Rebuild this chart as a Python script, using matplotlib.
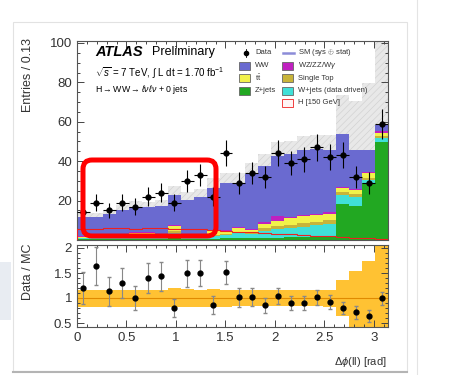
import numpy as np
import matplotlib.pyplot as plt
from matplotlib.patches import Rectangle, FancyBboxPatch
from matplotlib.lines import Line2D
from matplotlib.transforms import Affine2D
from matplotlib.ticker import MultipleLocator, FixedLocator, FormatStrFormatter

plt.rcParams['font.family'] = ['Liberation Sans', 'DejaVu Sans']
plt.rcParams['mathtext.fontset'] = 'custom'
plt.rcParams['mathtext.rm'] = 'Liberation Sans'
plt.rcParams['mathtext.it'] = 'Liberation Sans:italic'
plt.rcParams['hatch.linewidth'] = 0.5
plt.rcParams['hatch.color'] = '#d2d2d2'

# -----------------------------------
# Data (24 bins of 0.13 rad)
# -----------------------------------
data = [14, 19, 15, 19, 17, 22, 24, 19, 30, 33, 22, 44,
        29, 34, 32, 44, 39, 41, 47, 42, 43, 32, 29, 59]
data_err = [3.7, 4.4, 3.9, 4.4, 4.1, 4.7, 4.9, 4.4, 5.5, 5.7, 4.7, 6.6,
            5.4, 5.8, 5.7, 6.6, 6.2, 6.4, 6.9, 6.5, 6.6, 5.7, 5.4, 7.7]

zjets = [0.5, 0.5, 0.5, 0.5, 0.5, 0.5, 0.5, 1.0, 0.5, 0.5, 0.6, 0.8,
         1.0, 1.0, 1.2, 1.2, 1.3, 1.3, 1.4, 1.4, 18.5, 17.5, 29.0, 49.5]
wjets = [0.3, 0.3, 0.3, 0.3, 0.8, 0.8, 0.4, 2.5, 0.5, 0.5, 1.2, 1.5,
         2.5, 1.8, 3.5, 4.5, 5.0, 5.5, 6.0, 6.5, 4.5, 4.5, 1.5, 2.5]
single_top = [0.2, 0.2, 0.3, 0.3, 0.6, 0.6, 0.3, 1.2, 0.4, 0.4, 0.8, 0.8,
              0.8, 0.8, 1.2, 1.5, 1.5, 1.8, 1.8, 2.0, 1.5, 1.5, 1.0, 1.0]
ttbar = [0.5, 0.5, 0.6, 0.6, 1.8, 1.6, 0.7, 2.5, 0.8, 0.8, 1.8, 1.6,
         1.8, 1.6, 2.3, 2.5, 3.2, 3.4, 3.4, 3.5, 2.0, 2.0, 2.5, 1.5]
diboson = [0.3, 0.3, 0.3, 0.3, 0.4, 0.4, 0.3, 0.6, 0.4, 0.4, 0.4, 0.5,
           0.5, 0.5, 0.8, 2.5, 0.8, 0.8, 0.8, 0.8, 0.6, 0.5, 0.5, 0.6]
ww = [9.7, 10.0, 11.0, 13.0, 12.9, 12.6, 15.3, 15.2, 17.9, 19.4, 21.7, 23.8,
      22.4, 27.8, 28.5, 30.3, 31.7, 32.7, 32.6, 31.3, 26.9, 19.5, 11.0, 3.4]
higgs = [5.5, 5.8, 6.0, 6.0, 5.8, 6.0, 6.0, 5.5, 5.5, 5.5, 5.0, 4.5,
         4.2, 4.0, 3.5, 3.2, 3.0, 2.6, 2.2, 2.0, 1.6, 1.2, 0.9, 0.6]

# relative systematic band (from the ratio panel)
sys_up = [1.17, 1.17, 1.17, 1.17, 1.17, 1.17, 1.17, 1.2, 1.18, 1.17, 1.18, 1.17,
          1.17, 1.16, 1.17, 1.17, 1.16, 1.16, 1.16, 1.17, 1.36, 1.55, 1.75, 2.1]
sys_dn = [0.83, 0.83, 0.83, 0.83, 0.83, 0.83, 0.83, 0.82, 0.83, 0.83, 0.83, 0.83,
          0.84, 0.84, 0.84, 0.84, 0.84, 0.84, 0.84, 0.83, 0.64, 0.4, 0.4, 0.4]

ratio = [1.2, 1.64, 1.14, 1.3, 1.0, 1.4, 1.44, 0.8, 1.5, 1.5, 0.86, 1.52,
         1.02, 1.02, 0.86, 1.04, 0.9, 0.9, 1.02, 0.92, 0.8, 0.72, 0.64, 1.0]
ratio_err = [0.32, 0.38, 0.29, 0.30, 0.24, 0.30, 0.29, 0.18, 0.27, 0.26, 0.18, 0.23,
             0.19, 0.18, 0.15, 0.16, 0.14, 0.14, 0.15, 0.14, 0.12, 0.13, 0.12, 0.13]

edges = np.linspace(0, np.pi, 25)
centers = 0.5 * (edges[1:] + edges[:-1])
half_w = 0.5 * (edges[1] - edges[0])

# -----------------------------------
# Figure and axes
# -----------------------------------
W, H = 471, 375
fig = plt.figure(figsize=(W / 100, H / 100), dpi=100)
fig.patch.set_facecolor('white')
# pixel coordinates, origin at top-left
T = Affine2D().scale(1 / W, -1 / H).translate(0, 1) + fig.transFigure

ax = fig.add_axes([77 / W, 1 - 240 / H, 311 / W, 199 / H])
rax = fig.add_axes([77 / W, 1 - 327 / H, 311 / W, 82 / H])

# main panel: stacked backgrounds
stack = [(zjets, '#22a822'), (wjets, '#40e0d8'), (single_top, '#c8b43a'),
         (ttbar, '#f2f24a'), (diboson, '#c020c0'), (ww, '#6a6ad0')]
bottom = np.zeros(24)
for vals, col in stack:
    top = bottom + np.array(vals)
    ax.stairs(top, edges, baseline=bottom, fill=True, color=col, lw=0, zorder=2)
    bottom = top
mc_total = bottom

ax.stairs(mc_total * np.array(sys_up), edges, baseline=mc_total * np.array(sys_dn),
          fill=True, facecolor='#e8e8e8', hatch='/////', edgecolor='#d2d2d2', lw=0, zorder=1)
ax.stairs(higgs, edges, color='#ee2020', lw=0.8, zorder=3)
ax.errorbar(centers, data, yerr=data_err, xerr=half_w, fmt='o', color='black',
            ms=3.5, elinewidth=0.8, capsize=0, zorder=5)

ax.set_xlim(0, np.pi)
ax.set_ylim(0, 101)
ax.yaxis.set_major_locator(FixedLocator([0, 20, 40, 60, 80, 100]))
ax.set_yticklabels(['', '20', '40', '60', '80', '100'])
ax.yaxis.set_minor_locator(MultipleLocator(5))
ax.xaxis.set_major_locator(MultipleLocator(0.5))
ax.xaxis.set_minor_locator(MultipleLocator(0.1))
ax.tick_params(labelbottom=False)

# ratio panel
rax.stairs(sys_up, edges, baseline=sys_dn, fill=True, color='#ffc233', lw=0, zorder=1)
rax.axhline(1, color='#e08a00', lw=0.8, zorder=2)
rax.errorbar(centers, ratio, yerr=ratio_err, fmt='o', color='black', ecolor='#888888',
             ms=3.5, elinewidth=0.8, capsize=1.2, zorder=5)
rax.set_xlim(0, np.pi)
rax.set_ylim(0.42, 2.06)
rax.yaxis.set_major_locator(FixedLocator([0.5, 1, 1.5, 2]))
rax.yaxis.set_major_formatter(FormatStrFormatter('%g'))
rax.yaxis.set_minor_locator(MultipleLocator(0.1))
rax.xaxis.set_major_locator(MultipleLocator(0.5))
rax.xaxis.set_major_formatter(FormatStrFormatter('%g'))
rax.xaxis.set_minor_locator(MultipleLocator(0.1))

for a in (ax, rax):
    a.tick_params(which='both', direction='in', top=True, right=True,
                  labelsize=9.5, labelcolor='#333333', color='#444444', width=0.7)
    a.tick_params(which='major', length=5)
    a.tick_params(which='minor', length=2.5)
    for s in a.spines.values():
        s.set_color('#555555')
        s.set_linewidth(0.8)

# axis titles
fig.text(28, 38, 'Entries / 0.13', rotation=90, ha='center', va='top',
         fontsize=9, color='#333333', transform=T)
fig.text(28, 243, 'Data / MC', rotation=90, ha='center', va='top',
         fontsize=9, color='#333333', transform=T)
fig.text(387, 362, r'$\Delta\phi$(ll) [rad]', ha='right', va='center',
         fontsize=8, color='#333333', transform=T)

# ATLAS labels
fig.text(95, 52, 'ATLAS', fontweight='bold', fontstyle='italic', fontsize=10.5,
         va='center', transform=T)
fig.text(152, 52, 'Preliminary', fontsize=9, va='center', transform=T)
fig.text(95, 73, r'$\sqrt{s}$ = 7 TeV, $\int$ L dt = 1.70 fb$^{-1}$', fontsize=7,
         va='center', transform=T)
fig.text(95, 89, r'H$\rightarrow$WW$\rightarrow\ell\nu\ell\nu$ + 0 jets', fontsize=6.3,
         va='center', transform=T)

# legend, drawn by hand
rows = [53, 65.5, 78, 90.5, 103]
leg_boxes = [
    (239, rows[1], '#6a6ad0', 'WW'),
    (239, rows[2], '#f2f24a', r't$\bar{\rm t}$'),
    (239, rows[3], '#22a822', 'Z+jets'),
    (282, rows[1], '#c020c0', r'WZ/ZZ/W$\gamma$'),
    (282, rows[2], '#c8b43a', 'Single Top'),
    (282, rows[3], '#40e0d8', 'W+jets (data driven)'),
    (282, rows[4], '#fff4f4', 'H [150 GeV]'),
]
for bx, by, col, lab in leg_boxes:
    edge = '#ee2020' if lab.startswith('H ') else '#666666'
    fig.add_artist(Rectangle((bx, by - 4), 11, 8, facecolor=col, edgecolor=edge,
                             lw=0.6, transform=T, zorder=6))
    fig.text(bx + 16, by, lab, fontsize=5.5, va='center', color='#333333',
             transform=T, zorder=6)
fig.add_artist(Line2D([245.5], [rows[0]], marker='o', ms=3, color='black',
                      transform=T, zorder=6))
fig.add_artist(Line2D([245.5, 245.5], [rows[0] - 4, rows[0] + 4], color='black',
                      lw=0.6, transform=T, zorder=6))
fig.text(255, rows[0], 'Data', fontsize=5.5, va='center', color='#333333',
         transform=T, zorder=6)
fig.add_artist(Line2D([283, 294], [rows[0], rows[0]], color='#8c8cd8', lw=1.8,
                      transform=T, zorder=6))
fig.text(298, rows[0], r'SM (sys $\oplus$ stat)', fontsize=5.5, va='center',
         color='#333333', transform=T, zorder=6)

# page decorations around the chart
fig.add_artist(Rectangle((0, 262), 11, 58, facecolor='#e8ecf2', edgecolor='none',
                         transform=T, zorder=0))
fig.add_artist(Rectangle((13, 22), 394, 349, fill=False, edgecolor='#e2e2e2',
                         lw=0.8, transform=T, zorder=0))
fig.add_artist(Line2D([13, 407], [371.5, 371.5], color='#b4b4b4', lw=1.5,
                      transform=T, zorder=0))
fig.add_artist(Line2D([417, 417], [0, 375], color='#e4e4e4', lw=0.8,
                      transform=T, zorder=0))

# red highlight box
fig.add_artist(FancyBboxPatch((83, 160), 133, 76,
                              boxstyle='round,pad=0,rounding_size=9',
                              fill=False, edgecolor='#ff0000', lw=3.6,
                              transform=T, zorder=10))

fig.savefig('out.png', dpi=100)
